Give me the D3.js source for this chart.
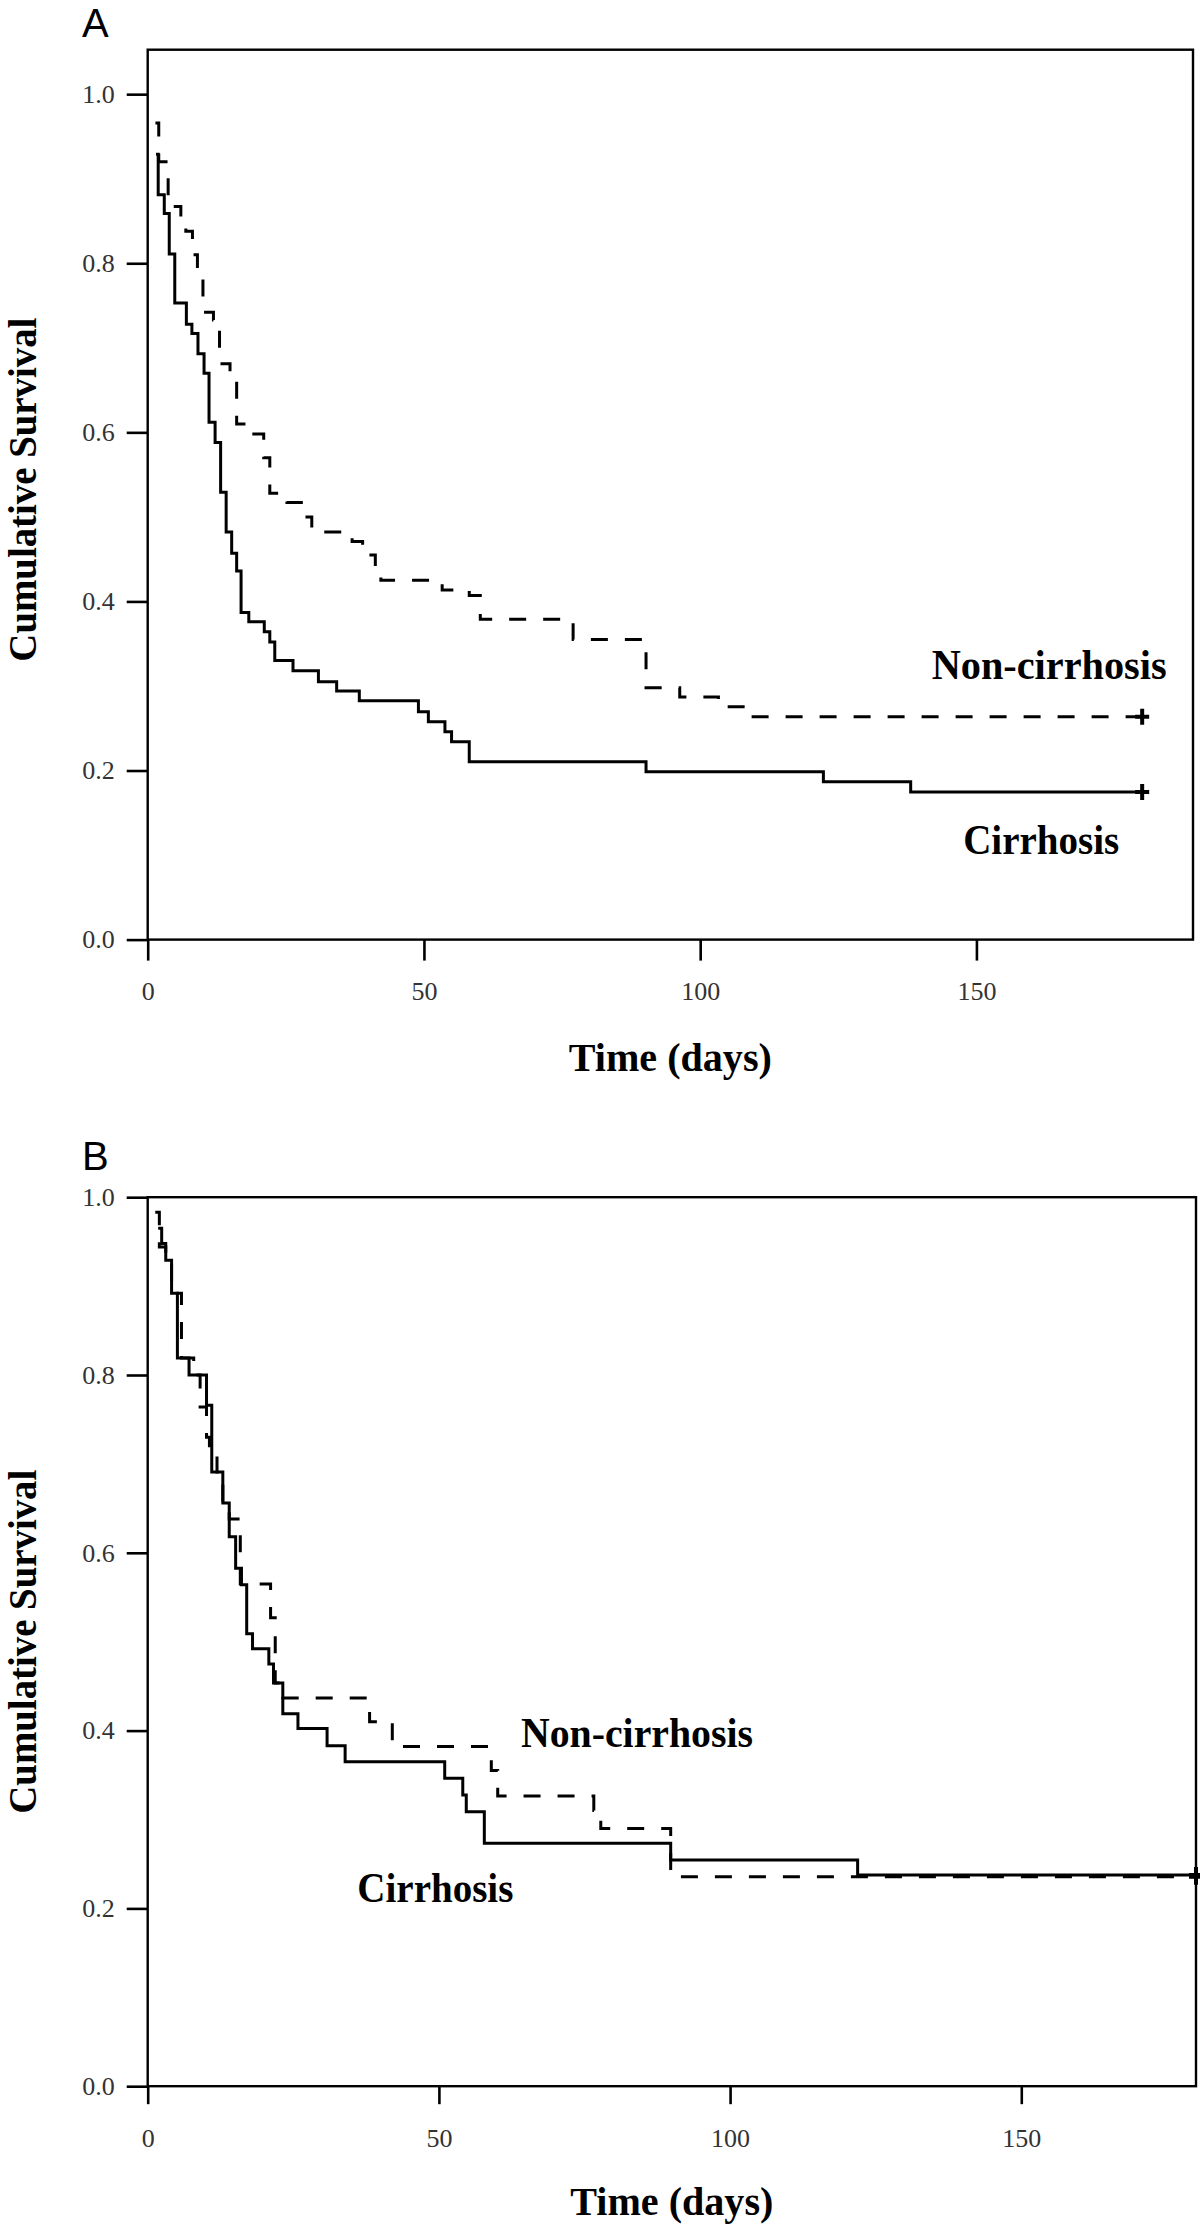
<!DOCTYPE html>
<html><head><meta charset="utf-8">
<script src="https://cdn.jsdelivr.net/npm/d3@7"></script>
<style>body{margin:0;background:#fff}svg{display:block}</style>
</head><body>
<script>
// ---------- data ----------
const endTime = 180;
const xTicks = [0, 50, 100, 150];
const yTicks = [0.0, 0.2, 0.4, 0.6, 0.8, 1.0];
const panelLabels = ["A", "B"];
const seriesLabels = ["Non-cirrhosis", "Cirrhosis"];
const xTitle = "Time (days)";
const yTitle = "Cumulative Survival";

// [time (days), cumulative survival after the step]
const aNonCirrhosis = [[1.4,0.966],[2.0,0.920],[3.7,0.867],[6.0,0.857],[6.9,0.838],[8.1,0.81],[9.0,0.79],[10.0,0.742],[11.9,0.733],[13.0,0.681],[14.9,0.670],[16.1,0.610],[18.5,0.598],[21.0,0.57],[22.1,0.528],[25.2,0.517],[28.2,0.50],[29.7,0.482],[37.0,0.471],[38.9,0.455],[41.2,0.436],[42.2,0.425],[53.3,0.4135],[58.2,0.407],[60.2,0.379],[77.0,0.355],[90.2,0.298],[96.3,0.287],[103.3,0.2755],[108.1,0.2636]];
const aCirrhosis = [[1.5,0.929],[1.9,0.881],[3.0,0.859],[3.9,0.811],[4.9,0.753],[7.0,0.728],[8.0,0.717],[9.1,0.693],[10.2,0.670],[11.1,0.612],[12.2,0.588],[13.2,0.529],[14.2,0.482],[15.2,0.457],[16.1,0.436],[16.9,0.387],[18.3,0.376],[21.1,0.364],[22.1,0.352],[23.0,0.330],[26.3,0.318],[30.9,0.305],[34.2,0.294],[38.3,0.2825],[49.0,0.2696],[50.8,0.2577],[53.8,0.2459],[55.0,0.234],[58.2,0.2104],[90.2,0.1986],[122.3,0.1868],[138.1,0.1747]];
const bNonCirrhosis = [[1.3,0.983],[2.0,0.944],[3.1,0.929],[4.1,0.892],[5.8,0.819],[7.9,0.800],[9.0,0.764],[10.1,0.730],[10.6,0.71],[11.9,0.691],[12.9,0.656],[14.0,0.638],[15.9,0.565],[21.1,0.527],[21.9,0.4535],[23.2,0.4368],[38.1,0.41],[42.0,0.382],[59.0,0.355],[60.1,0.3264],[76.6,0.31],[77.8,0.290],[89.8,0.2357]];
const bCirrhosis = [[1.8,0.965],[2.4,0.948],[3.1,0.929],[4.1,0.892],[5.1,0.819],[7.1,0.800],[10.1,0.766],[11.0,0.691],[12.9,0.656],[14.0,0.618],[15.1,0.5825],[16.1,0.564],[17.0,0.509],[18.0,0.492],[20.8,0.475],[21.6,0.4535],[23.2,0.419],[25.8,0.4025],[30.8,0.383],[33.9,0.365],[51.0,0.3463],[54.1,0.3276],[54.7,0.3088],[57.8,0.2732],[89.8,0.2544],[121.9,0.2375]];

// ---------- drawing ----------
const svg = d3.select("body").append("svg").attr("width", 1200).attr("height", 2225);
const serif = "'Liberation Serif','Times New Roman',serif";

function panel(o) {
  const x = o.x, y = o.y;
  const g = svg.append("g");
  const [x0, x1] = x.range(), [yb, yt] = y.range();

  // panel letter
  g.append("text").attr("x", 82).attr("y", o.letterY)
    .attr("font-family", "'Liberation Sans',Arial,sans-serif").attr("font-size", 40)
    .text(o.letter);

  // axes
  const ya = g.append("g").attr("transform", `translate(${x0},0)`)
    .call(d3.axisLeft(y).tickValues(yTicks).tickFormat(d3.format(".1f")).tickSize(21).tickPadding(12));
  const xa = g.append("g").attr("transform", `translate(0,${yb})`)
    .call(d3.axisBottom(x).tickValues(xTicks).tickFormat(d3.format("d")).tickSize(o.xTickSize).tickPadding(o.xPad));
  [ya, xa].forEach(a => {
    a.select(".domain").remove();
    a.selectAll(".tick line").attr("stroke", "#000").attr("stroke-width", 2.6);
    a.selectAll(".tick text").attr("font-family", serif).attr("font-size", 26).attr("fill", "#333");
  });

  // frame
  g.append("rect").attr("x", x0).attr("y", yt).attr("width", x1 - x0).attr("height", yb - yt)
    .attr("fill", "none").attr("stroke", "#000").attr("stroke-width", 2.4);

  const line = d3.line().x(d => x(d[0])).y(d => y(d[1])).curve(d3.curveStepAfter);
  const ext = s => s.concat([[endTime, s[s.length - 1][1]]]);

  g.append("path").attr("d", line(ext(o.non))).attr("fill", "none").attr("stroke", "#000")
    .attr("stroke-width", 3).attr("stroke-dasharray", "17,17");
  g.append("path").attr("d", line(ext(o.cir))).attr("fill", "none").attr("stroke", "#000")
    .attr("stroke-width", 3);

  // censor marks
  [o.non, o.cir].forEach(s => {
    const cx = x(endTime), cy = y(s[s.length - 1][1]);
    g.append("path").attr("d", `M${cx - 7},${cy}h14M${cx},${cy - 8}v16`)
      .attr("stroke", "#000").attr("stroke-width", 4).attr("fill", "none");
  });

  // series labels
  const lab = (txt, p, len) => g.append("text").attr("x", x(p[0])).attr("y", y(p[1]))
    .attr("font-family", serif).attr("font-weight", "bold").attr("font-size", 42)
    .attr("textLength", len).attr("lengthAdjust", "spacingAndGlyphs").text(txt);
  lab(seriesLabels[0], o.nonLab, o.nonLen);
  lab(seriesLabels[1], o.cirLab, 156);

  // axis titles
  g.append("text").attr("transform", `translate(36,${(yb + yt) / 2 - o.yTitleShift}) rotate(-90)`)
    .attr("text-anchor", "middle").attr("font-family", serif).attr("font-weight", "bold")
    .attr("font-size", 40).attr("textLength", 344).attr("lengthAdjust", "spacingAndGlyphs").text(yTitle);
  g.append("text").attr("x", (x0 + x1) / 2).attr("y", o.xTitleY)
    .attr("text-anchor", "middle").attr("font-family", serif).attr("font-weight", "bold")
    .attr("font-size", 40).attr("textLength", 203).attr("lengthAdjust", "spacingAndGlyphs").text(xTitle);
}

panel({
  letter: panelLabels[0], letterY: 37,
  x: d3.scaleLinear().domain([0, 189.2]).range([147.7, 1193]),
  y: d3.scaleLinear().domain([0, 1.0526]).range([939.6, 49.7]),
  xTickSize: 21, xPad: 21,
  non: aNonCirrhosis, cir: aCirrhosis,
  nonLab: [141.9, 0.308], nonLen: 235,
  cirLab: [147.6, 0.101],
  yTitleShift: 5, xTitleY: 1071
});

panel({
  letter: panelLabels[1], letterY: 1170,
  x: d3.scaleLinear().domain([0, 180]).range([147.7, 1196]),
  y: d3.scaleLinear().domain([0, 1]).range([2086.2, 1197.2]),
  xTickSize: 18, xPad: 24,
  non: bNonCirrhosis, cir: bCirrhosis,
  nonLab: [64.1, 0.381], nonLen: 232,
  cirLab: [36.0, 0.207],
  yTitleShift: 0, xTitleY: 2215
});
</script>
</body></html>
